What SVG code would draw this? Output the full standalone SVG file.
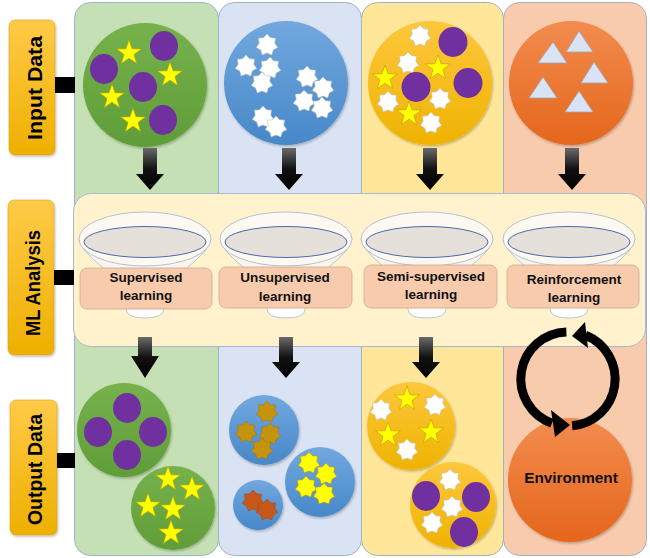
<svg xmlns="http://www.w3.org/2000/svg" width="650" height="558" viewBox="0 0 650 558">
<style>
.pn{stroke:#9fb2c8;stroke-width:1}
.side{stroke:#d9a21a;stroke-width:0.6}
.sidet{font-family:"Liberation Sans",Arial,sans-serif;font-weight:bold;fill:#000}
.lbl{fill:#f8cbad;stroke:#c9aa94;stroke-width:0.8}
.lt{font-family:"Liberation Sans",Arial,sans-serif;font-weight:bold;font-size:13.5px;fill:#111;text-anchor:middle}
.pu{fill:#7030a0}
.ys{fill:#ffff00;stroke:#b99a10;stroke-width:0.6}
.ws{fill:#ffffff;stroke:#bdbdbd;stroke-width:0.6}
.gs{fill:#c6930c;stroke:#9c7410;stroke-width:0.5}
.os{fill:#c8581a;stroke:#a04510;stroke-width:0.5}
.tri{fill:#dae3f3;stroke:#9aa3b5;stroke-width:0.8}
.arr{fill:url(#gArrow)}
.bar{fill:#000}
.cyc{fill:none;stroke:#000;stroke-width:9}
</style>
<defs>
<linearGradient id="gSide" x1="0" y1="0" x2="0" y2="1"><stop offset="0" stop-color="#ffca48"/><stop offset="1" stop-color="#eeb000"/></linearGradient>
<linearGradient id="gGreen" x1="0" y1="0" x2="0" y2="1"><stop offset="0" stop-color="#76b24c"/><stop offset="1" stop-color="#5f9d38"/></linearGradient>
<linearGradient id="gBlue" x1="0" y1="0" x2="0" y2="1"><stop offset="0" stop-color="#72a8de"/><stop offset="1" stop-color="#4788c9"/></linearGradient>
<linearGradient id="gYel" x1="0" y1="0" x2="0" y2="1"><stop offset="0" stop-color="#fdc73c"/><stop offset="1" stop-color="#efb300"/></linearGradient>
<linearGradient id="gOra" x1="0" y1="0" x2="0" y2="1"><stop offset="0" stop-color="#f28c4e"/><stop offset="1" stop-color="#e5661c"/></linearGradient>
<linearGradient id="gArrow" x1="0" y1="0" x2="0" y2="1"><stop offset="0" stop-color="#6a6a6a"/><stop offset="0.5" stop-color="#111"/><stop offset="1" stop-color="#000"/></linearGradient>
<linearGradient id="gFunnel" x1="0" y1="0" x2="0" y2="1"><stop offset="0" stop-color="#f7f1e3"/><stop offset="1" stop-color="#ffffff"/></linearGradient>
<filter id="sh" x="-20%" y="-20%" width="140%" height="140%"><feDropShadow dx="1" dy="1.5" stdDeviation="1.2" flood-color="#000" flood-opacity="0.25"/></filter>
<polygon id="s5" points="0,-13 3.06,-4.21 12.36,-4.02 4.95,1.61 7.64,10.52 0,5.2 -7.64,10.52 -4.95,1.61 -12.36,-4.02 -3.06,-4.21"/>
<polygon id="s7" points="0,-11 3.47,-7.21 8.6,-6.86 7.8,-1.78 10.72,2.45 6.25,4.99 4.77,9.91 0,8 -4.77,9.91 -6.25,4.99 -10.72,2.45 -7.8,-1.78 -8.6,-6.86 -3.47,-7.21"/>
<g id="funnel">
<path d="M-66,239 C-62,258 -30,272 -19,292 L-19,309 Q-19,318 0,318 Q19,318 19,309 L19,292 C30,272 62,258 66,239 Z" fill="url(#gFunnel)" stroke="#a8b8d0" stroke-width="0.8"/>
<ellipse cx="0" cy="239" rx="66" ry="27" fill="#fdf9f0" stroke="#9fb2d2" stroke-width="0.8"/>
<ellipse cx="0" cy="242" rx="61" ry="15.5" fill="#e6e0da" stroke="#4a69ad" stroke-width="1"/>
</g>
</defs>

<g id="panels">
<rect class="pn" x="74.5" y="2.5" width="144" height="553" rx="16" fill="#c5e0b4"/>
<rect class="pn" x="218.5" y="2.5" width="143" height="553" rx="16" fill="#dae3f3"/>
<rect class="pn" x="361.5" y="2.5" width="142" height="553" rx="16" fill="#ffe699"/>
<rect class="pn" x="503.5" y="2.5" width="143" height="553" rx="16" fill="#f8cbad"/>
</g>

<g id="label-input">
<rect class="side" x="9" y="20" width="46" height="135" rx="6" fill="url(#gSide)" filter="url(#sh)"/>
<text class="sidet" font-size="21" transform="translate(42,88) rotate(-90)" text-anchor="middle" textLength="104" lengthAdjust="spacingAndGlyphs">Input Data</text>
</g>
<g id="label-ml">
<rect class="side" x="8" y="200" width="46" height="155" rx="6" fill="url(#gSide)" filter="url(#sh)"/>
<text class="sidet" font-size="19.5" transform="translate(40,283) rotate(-90)" text-anchor="middle" textLength="106" lengthAdjust="spacingAndGlyphs">ML Analysis</text>
</g>
<g id="label-output">
<rect class="side" x="10" y="400" width="47" height="135" rx="6" fill="url(#gSide)" filter="url(#sh)"/>
<text class="sidet" font-size="20" transform="translate(42,469.5) rotate(-90)" text-anchor="middle" textLength="111" lengthAdjust="spacingAndGlyphs">Output Data</text>
</g>

<g id="input-supervised">
<circle cx="145" cy="85" r="62" fill="url(#gGreen)" filter="url(#sh)"/>
<ellipse class="pu" cx="164" cy="46" rx="14" ry="15"/>
<ellipse class="pu" cx="104" cy="69" rx="14" ry="15"/>
<ellipse class="pu" cx="143" cy="87" rx="14" ry="15"/>
<ellipse class="pu" cx="163" cy="120" rx="14" ry="15"/>
<use href="#s5" class="ys" x="129" y="53"/>
<use href="#s5" class="ys" x="170" y="75"/>
<use href="#s5" class="ys" x="112" y="97"/>
<use href="#s5" class="ys" x="133" y="121"/>
</g>

<g id="input-unsupervised">
<circle cx="286" cy="83" r="62" fill="url(#gBlue)" filter="url(#sh)"/>
<use href="#s7" class="ws" x="267" y="45"/>
<use href="#s7" class="ws" x="246" y="66"/>
<use href="#s7" class="ws" x="270" y="68"/>
<use href="#s7" class="ws" x="262" y="83"/>
<use href="#s7" class="ws" x="307" y="77"/>
<use href="#s7" class="ws" x="323" y="88"/>
<use href="#s7" class="ws" x="304" y="101"/>
<use href="#s7" class="ws" x="322" y="108"/>
<use href="#s7" class="ws" x="263" y="117"/>
<use href="#s7" class="ws" x="276" y="127"/>
</g>

<g id="input-semi">
<circle cx="430" cy="83" r="62" fill="url(#gYel)" filter="url(#sh)"/>
<use href="#s7" class="ws" x="420" y="36"/>
<use href="#s7" class="ws" x="408" y="63"/>
<use href="#s7" class="ws" x="388" y="102"/>
<use href="#s7" class="ws" x="440" y="99"/>
<use href="#s7" class="ws" x="431" y="123"/>
<use href="#s5" class="ys" x="385" y="78"/>
<use href="#s5" class="ys" x="438" y="68"/>
<use href="#s5" class="ys" x="409" y="114"/>
<ellipse class="pu" cx="453" cy="42" rx="14.5" ry="15"/>
<ellipse class="pu" cx="416" cy="87" rx="14.5" ry="15"/>
<ellipse class="pu" cx="468" cy="83" rx="14.5" ry="15"/>
</g>

<g id="input-reinforcement">
<circle cx="571" cy="83" r="62" fill="url(#gOra)" filter="url(#sh)"/>
<polygon class="tri" points="553,42 538,63 567,63"/>
<polygon class="tri" points="579,31 566,52 593,52"/>
<polygon class="tri" points="594,62 581,83 608,83"/>
<polygon class="tri" points="543,77 529,98 557,98"/>
<polygon class="tri" points="579,91 565,112 593,112"/>
</g>

<g id="ml-analysis">
<rect x="73.5" y="193.5" width="572" height="153" rx="18" fill="#fff2cc" stroke="#a9b9cc" stroke-width="1"/>
</g>

<g id="ml-supervised">
<use href="#funnel" x="145"/>
<rect class="lbl" x="80" y="268" width="132" height="41" rx="7"/>
<text class="lt" x="146" y="282">Supervised</text>
<text class="lt" x="146" y="300">learning</text>
</g>
<g id="ml-unsupervised">
<use href="#funnel" x="286"/>
<rect class="lbl" x="219" y="267" width="133" height="41" rx="7"/>
<text class="lt" x="285" y="282">Unsupervised</text>
<text class="lt" x="285" y="301">learning</text>
</g>
<g id="ml-semi">
<use href="#funnel" x="427"/>
<rect class="lbl" x="364" y="265" width="133" height="43" rx="7"/>
<text class="lt" x="431" y="281">Semi-supervised</text>
<text class="lt" x="431" y="299">learning</text>
</g>
<g id="ml-reinforcement">
<use href="#funnel" x="569"/>
<rect class="lbl" x="507" y="265" width="132" height="43" rx="7"/>
<text class="lt" x="574" y="284">Reinforcement</text>
<text class="lt" x="574" y="302">learning</text>
</g>

<g id="output-supervised">
<circle cx="124" cy="430" r="47" fill="url(#gGreen)" filter="url(#sh)"/>
<ellipse class="pu" cx="127" cy="408" rx="14" ry="15"/>
<ellipse class="pu" cx="98" cy="432" rx="14" ry="15"/>
<ellipse class="pu" cx="153" cy="432" rx="14" ry="15"/>
<ellipse class="pu" cx="127" cy="455" rx="14" ry="15"/>
<circle cx="173" cy="508" r="42" fill="url(#gGreen)" filter="url(#sh)"/>
<use href="#s5" class="ys" x="168" y="479"/>
<use href="#s5" class="ys" x="192" y="489"/>
<use href="#s5" class="ys" x="148" y="506"/>
<use href="#s5" class="ys" x="173" y="509"/>
<use href="#s5" class="ys" x="171" y="533"/>
</g>

<g id="output-unsupervised">
<circle cx="264" cy="430" r="35" fill="url(#gBlue)" filter="url(#sh)"/>
<use href="#s7" class="gs" x="267" y="412"/>
<use href="#s7" class="gs" x="246" y="432"/>
<use href="#s7" class="gs" x="270" y="434"/>
<use href="#s7" class="gs" x="262" y="449"/>
<circle cx="320" cy="482" r="35" fill="url(#gBlue)" filter="url(#sh)"/>
<use href="#s7" class="ys" x="309" y="463"/>
<use href="#s7" class="ys" x="326" y="474"/>
<use href="#s7" class="ys" x="306" y="487"/>
<use href="#s7" class="ys" x="324" y="494"/>
<circle cx="258" cy="505" r="25" fill="url(#gBlue)" filter="url(#sh)"/>
<use href="#s7" class="os" x="253" y="501"/>
<use href="#s7" class="os" x="267" y="510"/>
</g>

<g id="output-semi">
<circle cx="411" cy="426" r="44" fill="url(#gYel)" filter="url(#sh)"/>
<use href="#s5" class="ys" x="407" y="399"/>
<use href="#s5" class="ys" x="388" y="435"/>
<use href="#s5" class="ys" x="431" y="432"/>
<use href="#s7" class="ws" x="381" y="410"/>
<use href="#s7" class="ws" x="435" y="405"/>
<use href="#s7" class="ws" x="407" y="450"/>
<circle cx="453" cy="505" r="43" fill="url(#gYel)" filter="url(#sh)"/>
<ellipse class="pu" cx="426" cy="496" rx="14" ry="15"/>
<ellipse class="pu" cx="476" cy="497" rx="14" ry="15"/>
<ellipse class="pu" cx="464" cy="532" rx="14" ry="15"/>
<use href="#s7" class="ws" x="450" y="480"/>
<use href="#s7" class="ws" x="452" y="507"/>
<use href="#s7" class="ws" x="432" y="523"/>
</g>

<g id="environment">
<circle cx="570" cy="480" r="62" fill="url(#gOra)" filter="url(#sh)"/>
<text x="571" y="483" font-family="'Liberation Sans',Arial,sans-serif" font-weight="bold" font-size="15.3" text-anchor="middle" fill="#111">Environment</text>
</g>

<g id="connectors">
<rect class="bar" x="55" y="77" width="20" height="16"/>
<rect class="bar" x="54" y="270" width="20" height="15"/>
<rect class="bar" x="57" y="453" width="18" height="15"/>
<path class="arr" d="M143,148 H157 V174 H164 L150,190 L136,174 H143 Z"/>
<path class="arr" d="M282,148 H296 V174 H303 L289,190 L275,174 H282 Z"/>
<path class="arr" d="M423,148 H437 V174 H444 L430,190 L416,174 H423 Z"/>
<path class="arr" d="M565,148 H579 V174 H586 L572,190 L558,174 H565 Z"/>
<path class="arr" d="M138,337 H152 V356 H159 L145,378 L131,356 H138 Z"/>
<path class="arr" d="M279,337 H293 V362 H300 L286,378 L272,362 H279 Z"/>
<path class="arr" d="M419,337 H433 V362 H440 L426,378 L412,362 H419 Z"/>
<path class="cyc" d="M566.4,332 A47,47 0 0 0 551.9,423.2"/>
<polygon points="551,410 555,437 570,425" fill="#000"/>
<path class="cyc" d="M572.1,425.8 A47,47 0 0 0 585.5,335.3"/>
<polygon points="585,322 588,348 572,336" fill="#000"/>
</g>
</svg>
